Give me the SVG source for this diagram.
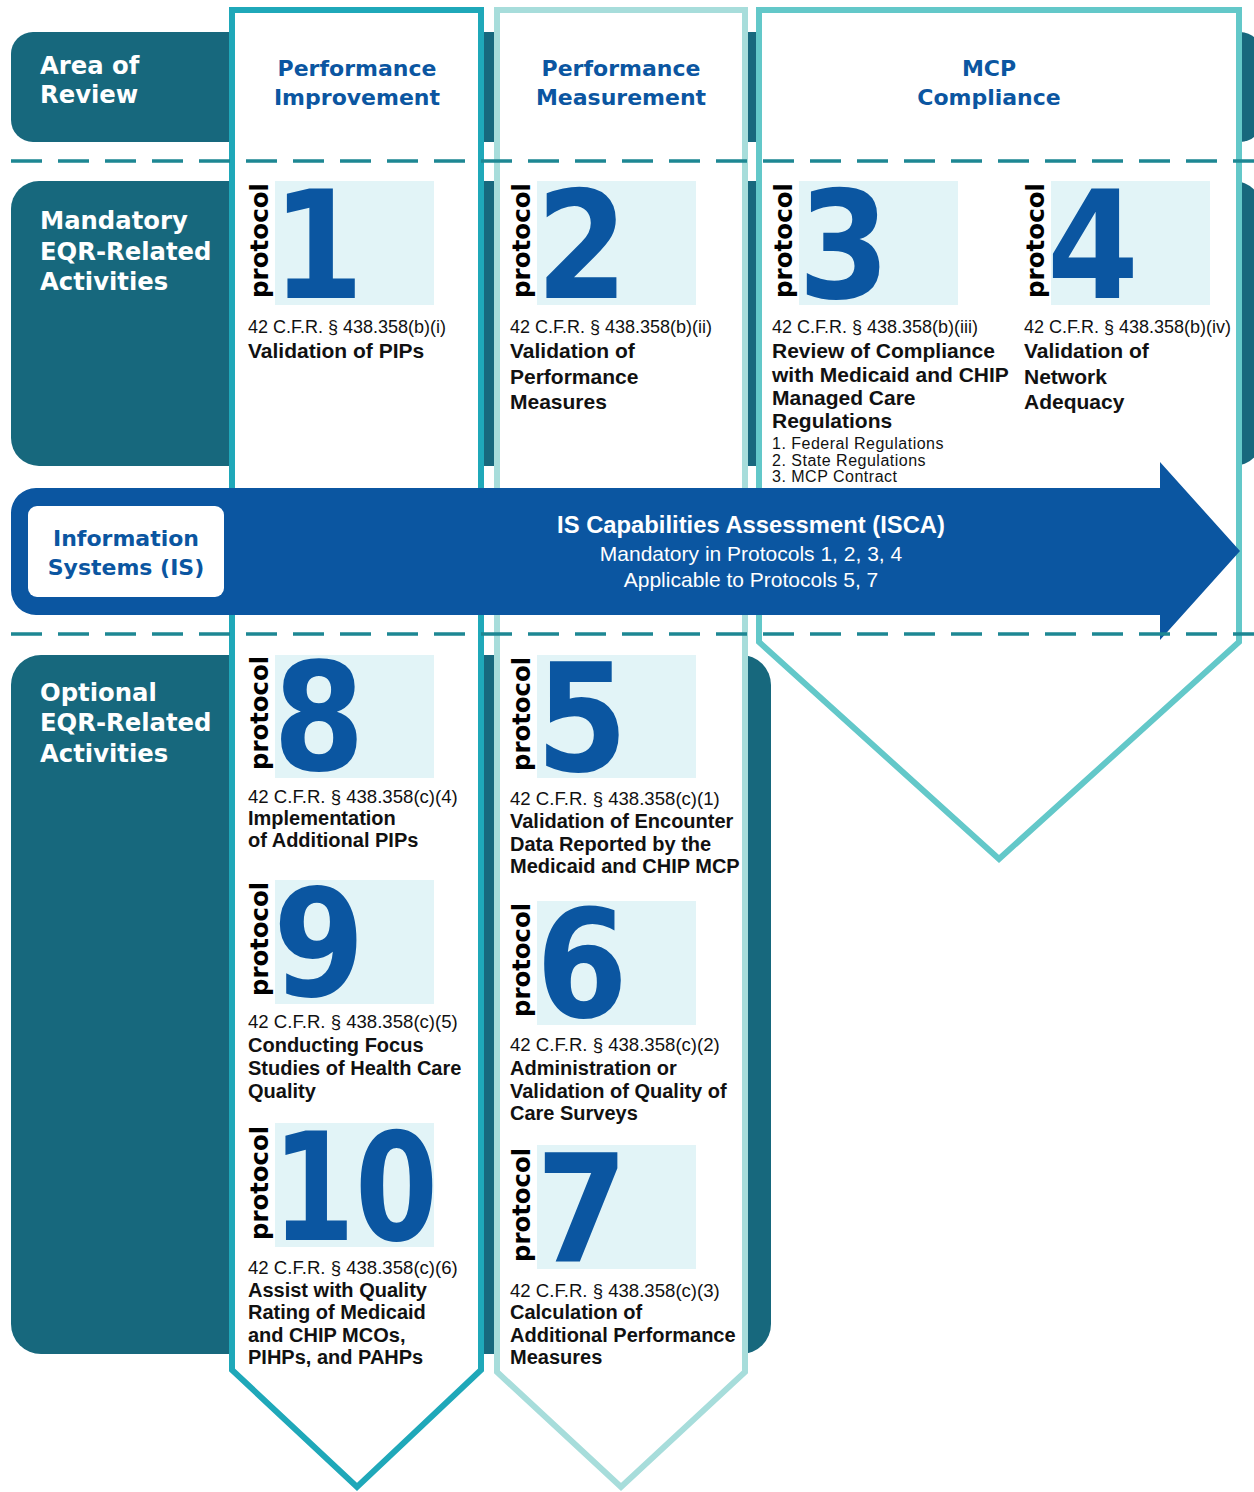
<svg xmlns="http://www.w3.org/2000/svg" width="1254" height="1492" viewBox="0 0 1254 1492">
<style>
.band{fill:#17687D}
.dash{stroke:#1D8793;stroke-width:3.5;stroke-dasharray:31 16;fill:none}
.col{fill:#FFFFFF;stroke-width:6;stroke-linejoin:miter}
.hdw{font-family:"DejaVu Sans",Verdana,sans-serif;font-weight:bold;font-size:24.3px;fill:#FFFFFF}
.hdb{font-family:"DejaVu Sans",Verdana,sans-serif;font-weight:bold;font-size:22px;fill:#0B56A1;text-anchor:middle}
.box{fill:#E2F4F7}
.proto{font-family:"DejaVu Sans",Verdana,sans-serif;font-weight:bold;font-size:24px;fill:#000000}
.num{font-family:"DejaVu Sans",Verdana,sans-serif;font-weight:bold;font-size:150px;fill:#0B56A1}
.cit{font-family:"Liberation Sans",Arial,sans-serif;font-size:18px;fill:#111111}
.cit2{font-family:"Liberation Sans",Arial,sans-serif;font-size:18.6px;fill:#111111}
.ttl{font-family:"Liberation Sans",Arial,sans-serif;font-weight:bold;font-size:21px;fill:#111111}
.ttl2{font-family:"Liberation Sans",Arial,sans-serif;font-weight:bold;font-size:20px;fill:#111111}
.lst{font-family:"Liberation Sans",Arial,sans-serif;font-size:16px;letter-spacing:0.5px;fill:#111111}
.isw{font-family:"Liberation Sans",Arial,sans-serif;fill:#FFFFFF;text-anchor:middle}
</style>
<rect width="1254" height="1492" fill="#FFFFFF"/>
<g id="bands">
<rect class="band" x="11" y="32" width="1251" height="110" rx="22"/>
<rect class="band" x="11" y="181" width="1251" height="285" rx="28"/>
<rect class="band" x="11" y="655" width="760" height="699" rx="30"/>
</g>
<g id="col-performance-improvement">
<path class="col" stroke="#1FA8B9" d="M232,10 H481 V1370 L357,1487 L232,1370 Z"/>
<text class="hdb" x="357" y="76">Performance</text>
<text class="hdb" x="357" y="105">Improvement</text>
</g>
<g id="col-performance-measurement">
<path class="col" stroke="#A7DDDB" d="M497,10 H745 V1372 L621,1487 L497,1372 Z"/>
<text class="hdb" x="621" y="76">Performance</text>
<text class="hdb" x="621" y="105">Measurement</text>
</g>
<g id="col-mcp-compliance">
<path class="col" stroke="#63C8C9" d="M759,10 H1239 V642 L999,859 L759,642 Z"/>
<text class="hdb" x="989" y="76">MCP</text>
<text class="hdb" x="989" y="105">Compliance</text>
</g>
<g id="row-labels">
<text class="hdw" x="40" y="74">Area of</text>
<text class="hdw" x="40" y="103">Review</text>
<text class="hdw" x="40" y="229">Mandatory</text>
<text class="hdw" x="40" y="260">EQR-Related</text>
<text class="hdw" x="40" y="290">Activities</text>
<text class="hdw" x="40" y="701">Optional</text>
<text class="hdw" x="40" y="731">EQR-Related</text>
<text class="hdw" x="40" y="762">Activities</text>
</g>
<g id="p1">
<rect class="box" x="275" y="181" width="159" height="124"/>
<text class="proto" transform="translate(268,298) rotate(-90)" textLength="115" lengthAdjust="spacingAndGlyphs">protocol</text>
<text class="num" transform="translate(272,298) scale(0.88,1)">1</text>
<text class="cit" x="248" y="333">42 C.F.R. § 438.358(b)(i)</text>
<text class="ttl" x="248" y="358">Validation of PIPs</text>
</g>
<g id="p2">
<rect class="box" x="537" y="181" width="159" height="124"/>
<text class="proto" transform="translate(530,298) rotate(-90)" textLength="115" lengthAdjust="spacingAndGlyphs">protocol</text>
<text class="num" transform="translate(536,298) scale(0.88,1)">2</text>
<text class="cit" x="510" y="333">42 C.F.R. § 438.358(b)(ii)</text>
<text class="ttl" x="510" y="358">Validation of</text>
<text class="ttl" x="510" y="384">Performance</text>
<text class="ttl" x="510" y="409">Measures</text>
</g>
<g id="p3">
<rect class="box" x="799" y="181" width="159" height="124"/>
<text class="proto" transform="translate(792,298) rotate(-90)" textLength="115" lengthAdjust="spacingAndGlyphs">protocol</text>
<text class="num" transform="translate(798,298) scale(0.88,1)">3</text>
<text class="cit" x="772" y="333">42 C.F.R. § 438.358(b)(iii)</text>
<text class="ttl" x="772" y="358" font-size="20.7">Review of Compliance</text>
<text class="ttl" x="772" y="382" font-size="20.7">with Medicaid and CHIP</text>
<text class="ttl" x="772" y="405" font-size="20.7">Managed Care</text>
<text class="ttl" x="772" y="428" font-size="20.7">Regulations</text>
<text class="lst" x="772" y="449">1. Federal Regulations</text>
<text class="lst" x="772" y="466">2. State Regulations</text>
<text class="lst" x="772" y="482">3. MCP Contract</text>
</g>
<g id="p4">
<rect class="box" x="1051" y="181" width="159" height="124"/>
<text class="proto" transform="translate(1044,298) rotate(-90)" textLength="115" lengthAdjust="spacingAndGlyphs">protocol</text>
<text class="num" transform="translate(1047,298) scale(0.88,1)">4</text>
<text class="cit" x="1024" y="333">42 C.F.R. § 438.358(b)(iv)</text>
<text class="ttl" x="1024" y="358">Validation of</text>
<text class="ttl" x="1024" y="384">Network</text>
<text class="ttl" x="1024" y="409">Adequacy</text>
</g>
<g id="p8">
<rect class="box" x="275" y="655" width="159" height="123"/>
<text class="proto" transform="translate(268,770) rotate(-90)" textLength="114" lengthAdjust="spacingAndGlyphs">protocol</text>
<text class="num" transform="translate(273,770) scale(0.88,1)">8</text>
<text class="cit2" x="248" y="803">42 C.F.R. § 438.358(c)(4)</text>
<text class="ttl2" x="248" y="825">Implementation</text>
<text class="ttl2" x="248" y="847">of Additional PIPs</text>
</g>
<g id="p9">
<rect class="box" x="275" y="880" width="159" height="124"/>
<text class="proto" transform="translate(268,996) rotate(-90)" textLength="114" lengthAdjust="spacingAndGlyphs">protocol</text>
<text class="num" transform="translate(273,996) scale(0.88,1)">9</text>
<text class="cit2" x="248" y="1028">42 C.F.R. § 438.358(c)(5)</text>
<text class="ttl2" x="248" y="1052">Conducting Focus</text>
<text class="ttl2" x="248" y="1075">Studies of Health Care</text>
<text class="ttl2" x="248" y="1098">Quality</text>
</g>
<g id="p10">
<rect class="box" x="275" y="1123" width="159" height="124"/>
<text class="proto" transform="translate(268,1240) rotate(-90)" textLength="114" lengthAdjust="spacingAndGlyphs">protocol</text>
<text class="num" x="272" y="1240" textLength="166" lengthAdjust="spacingAndGlyphs">10</text>
<text class="cit2" x="248" y="1274">42 C.F.R. § 438.358(c)(6)</text>
<text class="ttl2" x="248" y="1297">Assist with Quality</text>
<text class="ttl2" x="248" y="1319">Rating of Medicaid</text>
<text class="ttl2" x="248" y="1342">and CHIP MCOs,</text>
<text class="ttl2" x="248" y="1364">PIHPs, and PAHPs</text>
</g>
<g id="p5">
<rect class="box" x="537" y="655" width="159" height="123"/>
<text class="proto" transform="translate(530,771) rotate(-90)" textLength="114" lengthAdjust="spacingAndGlyphs">protocol</text>
<text class="num" transform="translate(536,771) scale(0.88,1)">5</text>
<text class="cit2" x="510" y="805">42 C.F.R. § 438.358(c)(1)</text>
<text class="ttl2" x="510" y="828">Validation of Encounter</text>
<text class="ttl2" x="510" y="851">Data Reported by the</text>
<text class="ttl2" x="510" y="873">Medicaid and CHIP MCP</text>
</g>
<g id="p6">
<rect class="box" x="537" y="901" width="159" height="124"/>
<text class="proto" transform="translate(530,1017) rotate(-90)" textLength="114" lengthAdjust="spacingAndGlyphs">protocol</text>
<text class="num" transform="translate(536,1017) scale(0.88,1)">6</text>
<text class="cit2" x="510" y="1051">42 C.F.R. § 438.358(c)(2)</text>
<text class="ttl2" x="510" y="1075">Administration or</text>
<text class="ttl2" x="510" y="1098">Validation of Quality of</text>
<text class="ttl2" x="510" y="1120">Care Surveys</text>
</g>
<g id="p7">
<rect class="box" x="537" y="1145" width="159" height="124"/>
<text class="proto" transform="translate(530,1262) rotate(-90)" textLength="114" lengthAdjust="spacingAndGlyphs">protocol</text>
<text class="num" transform="translate(536,1262) scale(0.88,1)">7</text>
<text class="cit2" x="510" y="1297">42 C.F.R. § 438.358(c)(3)</text>
<text class="ttl2" x="510" y="1319">Calculation of</text>
<text class="ttl2" x="510" y="1342">Additional Performance</text>
<text class="ttl2" x="510" y="1364">Measures</text>
</g>
<g id="isca-arrow">
<path fill="#0B56A1" d="M36,488 H1160 V462 L1240,551 L1160,640 V615 H36 A25,25 0 0 1 11,590 V513 A25,25 0 0 1 36,488 Z"/>
<rect x="28" y="506" width="196" height="91" rx="9" fill="#FFFFFF"/>
<text class="hdb" x="126" y="546">Information</text>
<text class="hdb" x="126" y="575">Systems (IS)</text>
<text class="isw" x="751" y="533" font-size="23.8" font-weight="bold">IS Capabilities Assessment (ISCA)</text>
<text class="isw" x="751" y="561" font-size="21">Mandatory in Protocols 1, 2, 3, 4</text>
<text class="isw" x="751" y="587" font-size="21">Applicable to Protocols 5, 7</text>
</g>
<g id="connectors">
<line class="dash" x1="11" y1="161" x2="1254" y2="161"/>
<line class="dash" x1="11" y1="634" x2="1254" y2="634"/>
</g>
</svg>
